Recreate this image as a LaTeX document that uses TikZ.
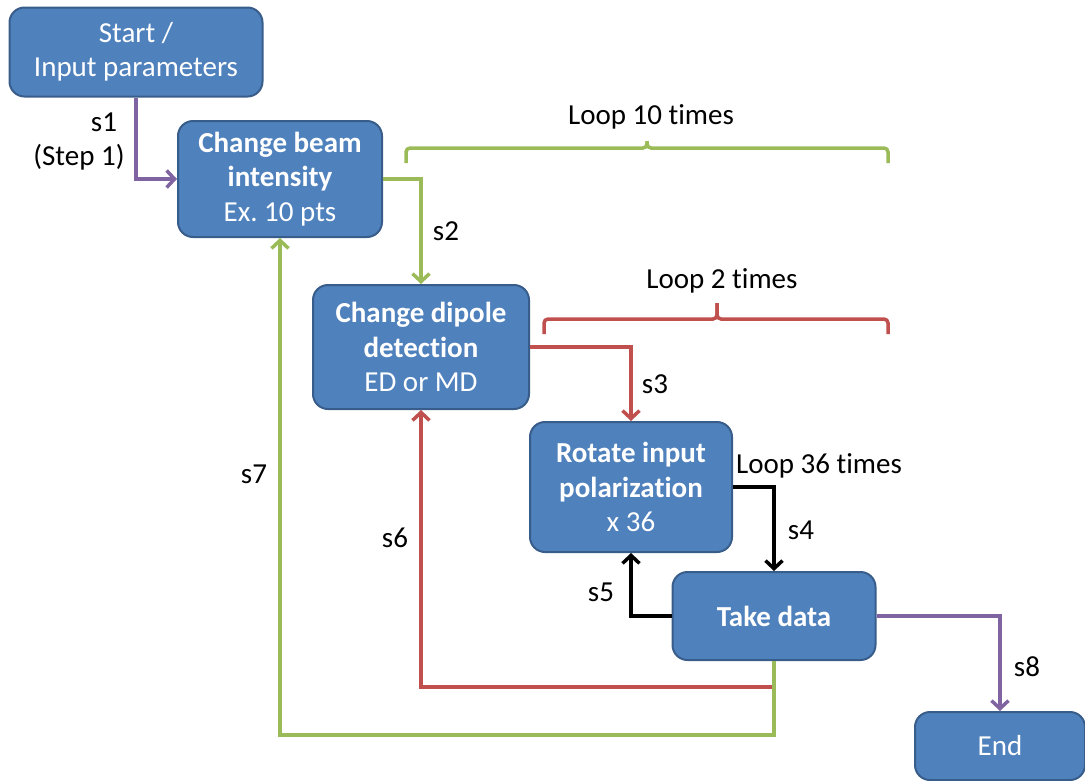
\documentclass[tikz,border=0pt]{standalone}
\usepackage{fontspec}
\setmainfont{Carlito}[Ligatures=NoCommon]
\usetikzlibrary{arrows.meta}
\definecolor{boxfill}{HTML}{4F81BD}
\definecolor{boxline}{HTML}{385D8A}
\definecolor{lgreen}{HTML}{9BBB59}
\definecolor{lred}{HTML}{C0504D}
\definecolor{lpurple}{HTML}{8064A2}
\frenchspacing
\tikzset{
  flowbox/.style={draw=boxline, fill=boxfill, line width=2pt, rounded corners=15pt,
    text=white, align=center, inner sep=0pt,
    font=\fontsize{29}{34.5}\selectfont},
  lbl/.style={text=black, inner sep=0pt, font=\fontsize{29}{34.5}\selectfont},
  conn/.style={line width=3.5pt, -{Straight Barb[length=8pt,width=17pt]}},
  brace/.style={line width=3.5pt, rounded corners=4pt},
}
\begin{document}
\begin{tikzpicture}[x=1pt,y=-1pt]
\useasboundingbox (0,0) rectangle (1085,780);
% boxes
\node[flowbox, minimum width=253pt, minimum height=89pt] (start) at (136,52) {Start /\\Input parameters};
\node[flowbox, minimum width=204pt, minimum height=116pt] (beam) at (280,179) {\textbf{Change beam}\\\textbf{intensity}\\Ex. 10 pts};
\node[flowbox, minimum width=216pt, minimum height=124pt] (dipole) at (421,347) {\textbf{Change dipole}\\\textbf{detection}\\ED or MD};
\node[flowbox, minimum width=202pt, minimum height=130pt] (rot) at (631,487) {\textbf{Rotate input}\\\textbf{polarization}\\x 36};
\node[flowbox, minimum width=203pt, minimum height=88pt] (take) at (774,616) {\textbf{Take data}};
\node[flowbox, minimum width=170pt, minimum height=68pt] (endn) at (1000,746) {End};
% corner coordinates
\coordinate (c6) at (774,687);
\coordinate (c7) at (774,735);
% connectors
\draw[conn, lpurple] (start.south) |- (beam.west);
\draw[conn, lgreen] (beam.east) -| (dipole.north);
\draw[conn, lred] (dipole.east) -| (rot.north);
\draw[conn, black] (rot.east) -| (take.north);
\draw[conn, black] (take.west) -| (rot.south);
\draw[conn, lred] (take.south) -- (c6) -| (dipole.south);
\draw[conn, lgreen] (take.south) -- (c7) -| (beam.south);
\draw[conn, lpurple] (take.east) -| (endn.north);
% braces
\coordinate (b1l) at (406,163);
\coordinate (b1m) at (647,141);
\coordinate (b1r) at (888,163);
\draw[brace, lgreen] (b1l) |- (b1m |- 0,148) -- (b1m);
\draw[brace, lgreen] (b1m) -- (b1m |- 0,148) -| (b1r);
\coordinate (b2l) at (544,334);
\coordinate (b2m) at (717,303);
\coordinate (b2r) at (888,334);
\draw[brace, lred] (b2l) |- (b2m |- 0,319) -- (b2m);
\draw[brace, lred] (b2m) -- (b2m |- 0,319) -| (b2r);
% labels
\node[lbl] (ls1) at (104,122) {s1};
\node[lbl] (lstep) at (79,157) {(Step 1)};
\node[lbl] (ll10) at (651,117) {Loop 10 times};
\node[lbl] (ll2) at (722,281) {Loop 2 times};
\node[lbl] (ls2) at (446,231) {s2};
\node[lbl] (ls3) at (655,384) {s3};
\node[lbl] (ll36) at (819,466) {Loop 36 times};
\node[lbl] (ls4) at (801,530) {s4};
\node[lbl] (ls5) at (601,592) {s5};
\node[lbl] (ls6) at (395,538) {s6};
\node[lbl] (ls7) at (254,474) {s7};
\node[lbl] (ls8) at (1027,667) {s8};
\end{tikzpicture}
\end{document}
